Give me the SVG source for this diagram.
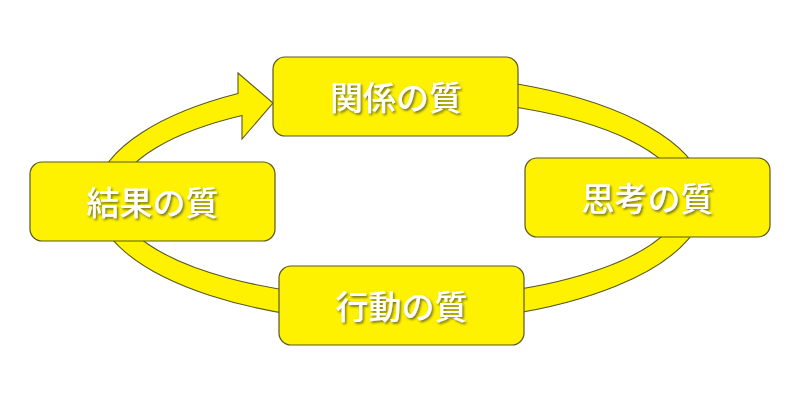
<svg xmlns="http://www.w3.org/2000/svg" width="800" height="404" viewBox="0 0 800 404">
  <defs>
    <filter id="shadow" x="-10%" y="-20%" width="130%" height="150%">
      <feDropShadow dx="1.5" dy="1.8" stdDeviation="1" flood-color="#4a4a2a" flood-opacity="0.75"/>
    </filter>
  </defs>
  <style>
    .box { fill: #FFF200; stroke: #5a5820; stroke-width: 1.2; }
    .band { fill: #FFF200; stroke: #5a5820; stroke-width: 1.1; stroke-linejoin: miter; }
    .label { font-family: "Noto Sans CJK JP", "Noto Sans", sans-serif; font-size: 33px; font-weight: 500; fill: #FFFFFF; text-anchor: middle; dominant-baseline: central; filter: url(#shadow); }
  </style>
  <rect width="800" height="404" fill="#FFFFFF"/>
  <g id="connectors">
    <path class="band" d="M 400 74.5 A 305 124 0 1 1 238 93.5 L 238 73 L 273 103 L 242 139 L 242 115.5 A 283 100 0 1 0 400 98.5 Z"/>
  </g>
  <g id="node-kankei">
    <rect class="box" x="273" y="57" width="245" height="79" rx="12" ry="12"/>
    <text class="label" x="396" y="96">関係の質</text>
  </g>
  <g id="node-shikou">
    <rect class="box" x="525" y="158" width="245" height="79" rx="12" ry="12"/>
    <text class="label" x="647.5" y="197">思考の質</text>
  </g>
  <g id="node-koudou">
    <rect class="box" x="279" y="266" width="245" height="79" rx="12" ry="12"/>
    <text class="label" x="401.5" y="305">行動の質</text>
  </g>
  <g id="node-kekka">
    <rect class="box" x="30" y="162" width="245" height="79" rx="12" ry="12"/>
    <text class="label" x="152.5" y="200.5">結果の質</text>
  </g>
</svg>
